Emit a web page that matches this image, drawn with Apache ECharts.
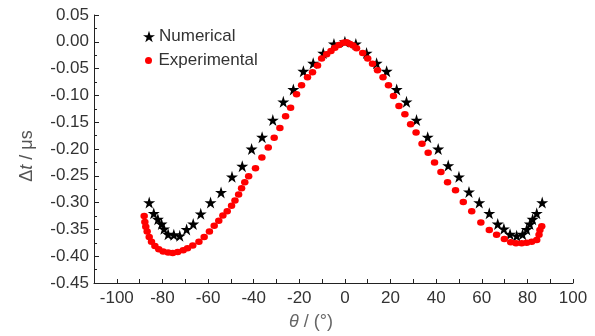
<!DOCTYPE html>
<html>
<head>
<meta charset="utf-8">
<script src="https://cdn.jsdelivr.net/npm/echarts@6/dist/echarts.min.js"></script>
<style>html,body{margin:0;padding:0;background:#fff}#c{width:595px;height:336px}</style>
</head>
<body>
<div id="c"></div>
<script>
// Numerical (stars)
const numTheta = [-85.8,-83.8,-82.0,-80.4,-79.3,-77.5,-75.0,-72.4,-69.4,-66.5,-63.2,-58.9,-54.3,-49.5,-45.0,-40.9,-36.3,-31.6,-27.0,-22.6,-18.2,-13.9,-9.5,-4.8,0,4.8,9.5,13.9,18.3,22.7,27.0,31.4,36.3,40.9,45.3,50.0,54.4,58.9,63.3,67.0,69.7,72.4,75.3,77.9,79.7,81.1,82.3,84.1,86.5];
const numDt = [-0.300,-0.320,-0.331,-0.340,-0.349,-0.359,-0.360,-0.362,-0.350,-0.340,-0.321,-0.300,-0.281,-0.252,-0.232,-0.200,-0.178,-0.146,-0.112,-0.089,-0.055,-0.040,-0.021,-0.004,0.000,-0.004,-0.021,-0.040,-0.055,-0.089,-0.112,-0.146,-0.178,-0.200,-0.231,-0.252,-0.280,-0.300,-0.320,-0.340,-0.349,-0.359,-0.362,-0.359,-0.350,-0.340,-0.331,-0.320,-0.300];
// Experimental (red dots)
const expTheta = [-88.0,-87.7,-87.3,-86.7,-85.8,-84.8,-83.3,-81.6,-79.7,-77.5,-75.5,-73.3,-70.9,-69.0,-66.7,-64.0,-61.7,-59.4,-57.3,-55.3,-53.5,-51.6,-49.7,-48.2,-46.6,-45.3,-43.9,-42.2,-39.2,-36.4,-33.6,-31.0,-28.5,-26.0,-23.8,-21.2,-19.0,-16.4,-14.2,-12.0,-10.2,-8.0,-6.1,-4.4,-2.6,-0.7,0.7,2.2,3.6,5.1,7.8,10.0,12.1,14.3,16.7,19.1,21.3,23.7,26.3,28.8,31.2,33.8,36.5,39.3,42.1,45.0,48.5,51.9,55.6,59.6,63.3,66.5,69.9,72.7,75.0,77.5,79.7,81.9,84.1,85.1,85.5,86.3];
const expDt = [-0.325,-0.336,-0.345,-0.354,-0.364,-0.373,-0.381,-0.387,-0.391,-0.393,-0.394,-0.392,-0.389,-0.385,-0.380,-0.373,-0.364,-0.354,-0.343,-0.334,-0.324,-0.316,-0.306,-0.296,-0.285,-0.273,-0.262,-0.251,-0.236,-0.216,-0.197,-0.179,-0.161,-0.139,-0.123,-0.098,-0.081,-0.066,-0.057,-0.044,-0.031,-0.023,-0.017,-0.011,-0.006,-0.002,-0.001,-0.004,-0.007,-0.012,-0.021,-0.031,-0.041,-0.053,-0.066,-0.081,-0.101,-0.120,-0.135,-0.154,-0.169,-0.190,-0.207,-0.225,-0.243,-0.262,-0.277,-0.299,-0.316,-0.337,-0.351,-0.360,-0.368,-0.374,-0.376,-0.376,-0.375,-0.373,-0.370,-0.360,-0.351,-0.344];
const seriesNames = ['Numerical', 'Experimental'];

const FONT = 'Liberation Sans, Arial, sans-serif';
const STAR = 'path://M50,0 L61.2,34.5 L97.6,34.5 L68.2,55.9 L79.4,90.5 L50,69.1 L20.6,90.5 L31.8,55.9 L2.4,34.5 L38.8,34.5 Z';
const legendText = {fontFamily: FONT, fontSize: 17, color: '#333'};

const chart = echarts.init(document.getElementById('c'), null, {renderer: 'canvas'});
chart.setOption({
  animation: false,
  backgroundColor: '#fff',
  grid: {left: 94, right: 22, top: 15, bottom: 51, containLabel: false},
  legend: [
    {left: 138, top: 23, itemWidth: 12, itemHeight: 12, itemGap: 0,
     textStyle: Object.assign({padding: [0,0,0,-1]}, legendText),
     data: [{name: seriesNames[0], icon: STAR}]},
    {left: 140, top: 47, itemWidth: 8, itemHeight: 7, itemGap: 0,
     textStyle: Object.assign({padding: [0,0,0,1]}, legendText),
     data: [{name: seriesNames[1], icon: 'circle'}]}
  ],
  xAxis: {
    type: 'value', min: -110, max: 100, interval: 10,
    name: '{i|θ} / (°)', nameLocation: 'middle', nameGap: 30,
    nameTextStyle: {fontFamily: FONT, fontSize: 18, color: '#666', padding: [0, 45, 0, 0],
      rich: {i: {fontFamily: FONT, fontSize: 18, fontStyle: 'italic', color: '#666'}}},
    axisLine: {show: true, onZero: false, lineStyle: {color: '#222', width: 1}},
    axisTick: {show: true, inside: true, length: 4, lineStyle: {color: '#222'}},
    axisLabel: {fontFamily: FONT, fontSize: 17, color: '#333', margin: 7,
      formatter: v => { const r = Math.round(v); return (r % 20 === 0) ? String(r) : ''; }},
    splitLine: {show: false}
  },
  yAxis: {
    type: 'value', min: -0.45, max: 0.05, interval: 0.05,
    name: 'Δ{i|t} / μs', nameLocation: 'middle', nameGap: 58,
    nameTextStyle: {fontFamily: FONT, fontSize: 18, color: '#555', padding: [0, 14, 0, 0],
      rich: {i: {fontFamily: FONT, fontSize: 18, fontStyle: 'italic', color: '#555'}}},
    axisLine: {show: true, onZero: false, lineStyle: {color: '#222', width: 1}},
    axisTick: {show: true, inside: true, length: 5, lineStyle: {color: '#222'}},
    minorTick: {show: true, splitNumber: 2, length: 3, lineStyle: {color: '#222'}},
    axisLabel: {fontFamily: FONT, fontSize: 17, color: '#333', margin: 5,
      formatter: v => (Math.abs(v) < 1e-9 ? '0.00' : v.toFixed(2))},
    splitLine: {show: false}
  },
  series: [
    {
      name: seriesNames[0], type: 'scatter', symbol: STAR, symbolSize: 12,
      itemStyle: {color: '#000', opacity: 1},
      data: numTheta.map((t, i) => [t, numDt[i]]), z: 2
    },
    {
      name: seriesNames[1], type: 'scatter', symbol: 'circle', symbolSize: [7.5, 6.5],
      itemStyle: {color: '#ff0000', opacity: 1},
      data: expTheta.map((t, i) => [t, expDt[i]]), z: 3
    }
  ]
});
</script>
</body>
</html>
